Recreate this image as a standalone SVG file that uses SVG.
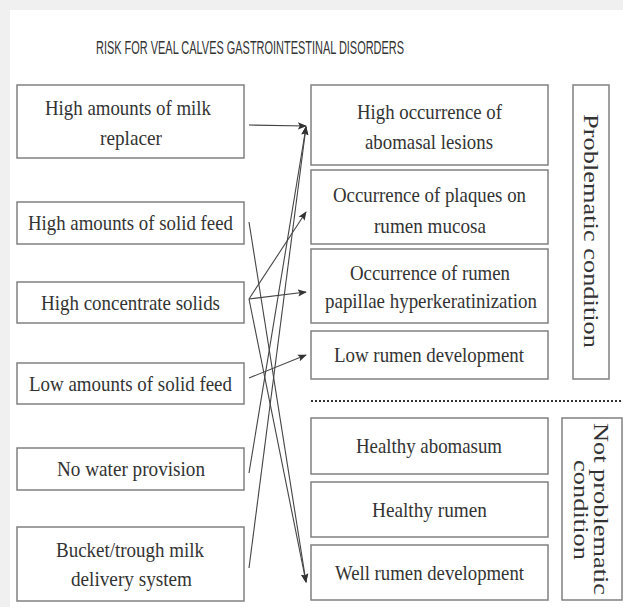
<svg xmlns="http://www.w3.org/2000/svg" width="623" height="607" viewBox="0 0 623 607">
<style>
.bg{fill:#f0f0f0}
.panel{fill:#ffffff}
.box{fill:#ffffff;stroke:#808080;stroke-width:1.5}
.t{font-family:"Liberation Serif","Times New Roman",serif;font-size:22px;fill:#333333;text-anchor:middle}
.title{font-family:"Liberation Sans",Arial,sans-serif;font-size:18px;fill:#333333;text-anchor:middle}
.c{stroke:#444444;stroke-width:1.1;fill:none;marker-end:url(#ah)}
.dot{stroke:#333333;stroke-width:2;stroke-dasharray:2 2}
</style>
<defs>
<marker id="ah" viewBox="0 0 10 10" refX="9" refY="5" markerWidth="9" markerHeight="9" markerUnits="userSpaceOnUse" orient="auto">
<path d="M0,1 L10,5 L0,9 L2,5 Z" fill="#333333"/>
</marker>
</defs>
<rect class="bg" x="0" y="0" width="623" height="607"/>
<rect class="panel" x="10" y="10" width="613" height="597"/>
<text class="title" x="250" y="54" textLength="308" lengthAdjust="spacingAndGlyphs">RISK FOR VEAL CALVES GASTROINTESTINAL DISORDERS</text>

<g id="n1"><rect class="box" x="17" y="85" width="227" height="73"/>
<text class="t" x="128" y="115" textLength="166" lengthAdjust="spacingAndGlyphs">High amounts of milk</text>
<text class="t" x="131" y="145" textLength="62" lengthAdjust="spacingAndGlyphs">replacer</text></g>
<g id="n2"><rect class="box" x="17" y="202" width="227" height="42"/>
<text class="t" x="130.5" y="230" textLength="205" lengthAdjust="spacingAndGlyphs">High amounts of solid feed</text></g>
<g id="n3"><rect class="box" x="17" y="282" width="227" height="41"/>
<text class="t" x="130.5" y="309.5" textLength="179" lengthAdjust="spacingAndGlyphs">High concentrate solids</text></g>
<g id="n4"><rect class="box" x="17" y="363" width="227" height="41"/>
<text class="t" x="130.5" y="390.5" textLength="203" lengthAdjust="spacingAndGlyphs">Low amounts of solid feed</text></g>
<g id="n5"><rect class="box" x="17" y="448" width="227" height="42"/>
<text class="t" x="131" y="476" textLength="148" lengthAdjust="spacingAndGlyphs">No water provision</text></g>
<g id="n6"><rect class="box" x="17" y="527" width="227" height="74"/>
<text class="t" x="130" y="557" textLength="148" lengthAdjust="spacingAndGlyphs">Bucket/trough milk</text>
<text class="t" x="131.5" y="586" textLength="121" lengthAdjust="spacingAndGlyphs">delivery system</text></g>

<g id="nA"><rect class="box" x="311" y="85" width="237" height="80"/>
<text class="t" x="429.5" y="119" textLength="145" lengthAdjust="spacingAndGlyphs">High occurrence of</text>
<text class="t" x="429" y="149" textLength="128" lengthAdjust="spacingAndGlyphs">abomasal lesions</text></g>
<g id="nB"><rect class="box" x="311" y="170" width="237" height="74"/>
<text class="t" x="429.5" y="202" textLength="193" lengthAdjust="spacingAndGlyphs">Occurrence of plaques on</text>
<text class="t" x="430" y="233" textLength="112" lengthAdjust="spacingAndGlyphs">rumen mucosa</text></g>
<g id="nC"><rect class="box" x="311" y="249" width="237" height="74"/>
<text class="t" x="430" y="280" textLength="160" lengthAdjust="spacingAndGlyphs">Occurrence of rumen</text>
<text class="t" x="431" y="308" textLength="212" lengthAdjust="spacingAndGlyphs">papillae hyperkeratinization</text></g>
<g id="nD"><rect class="box" x="311" y="331" width="237" height="48"/>
<text class="t" x="429" y="362" textLength="190" lengthAdjust="spacingAndGlyphs">Low rumen development</text></g>
<g id="nE"><rect class="box" x="311" y="418" width="237" height="56"/>
<text class="t" x="429" y="453" textLength="146" lengthAdjust="spacingAndGlyphs">Healthy abomasum</text></g>
<g id="nF"><rect class="box" x="311" y="482" width="237" height="55"/>
<text class="t" x="429.5" y="516.5" textLength="115" lengthAdjust="spacingAndGlyphs">Healthy rumen</text></g>
<g id="nG"><rect class="box" x="311" y="545" width="237" height="55"/>
<text class="t" x="429.5" y="579.5" textLength="189" lengthAdjust="spacingAndGlyphs">Well rumen development</text></g>

<g id="side1"><rect class="box" x="573" y="85" width="36" height="294"/>
<text class="t" transform="translate(584,231) rotate(90)" x="0" y="0" textLength="234" lengthAdjust="spacingAndGlyphs">Problematic condition</text></g>
<g id="side2"><rect class="box" x="562" y="418" width="60" height="182"/>
<text class="t" transform="translate(594,509) rotate(90)" x="0" y="0" textLength="172" lengthAdjust="spacingAndGlyphs">Not problematic</text>
<text class="t" transform="translate(574,510) rotate(90)" x="0" y="0" textLength="100" lengthAdjust="spacingAndGlyphs">condition</text></g>

<line class="dot" x1="311" y1="401" x2="623" y2="401"/>

<g id="connectors">
<line class="c" x1="249" y1="125" x2="306" y2="126"/>
<line class="c" x1="249" y1="222" x2="306" y2="582"/>
<line class="c" x1="249" y1="299" x2="306" y2="212"/>
<line class="c" x1="249" y1="299" x2="306" y2="292"/>
<line class="c" x1="249" y1="299" x2="306" y2="582"/>
<line class="c" x1="249" y1="378" x2="306" y2="355"/>
<line class="c" x1="249" y1="473" x2="306" y2="127"/>
<line class="c" x1="249" y1="568" x2="306" y2="127"/>
</g>
</svg>
